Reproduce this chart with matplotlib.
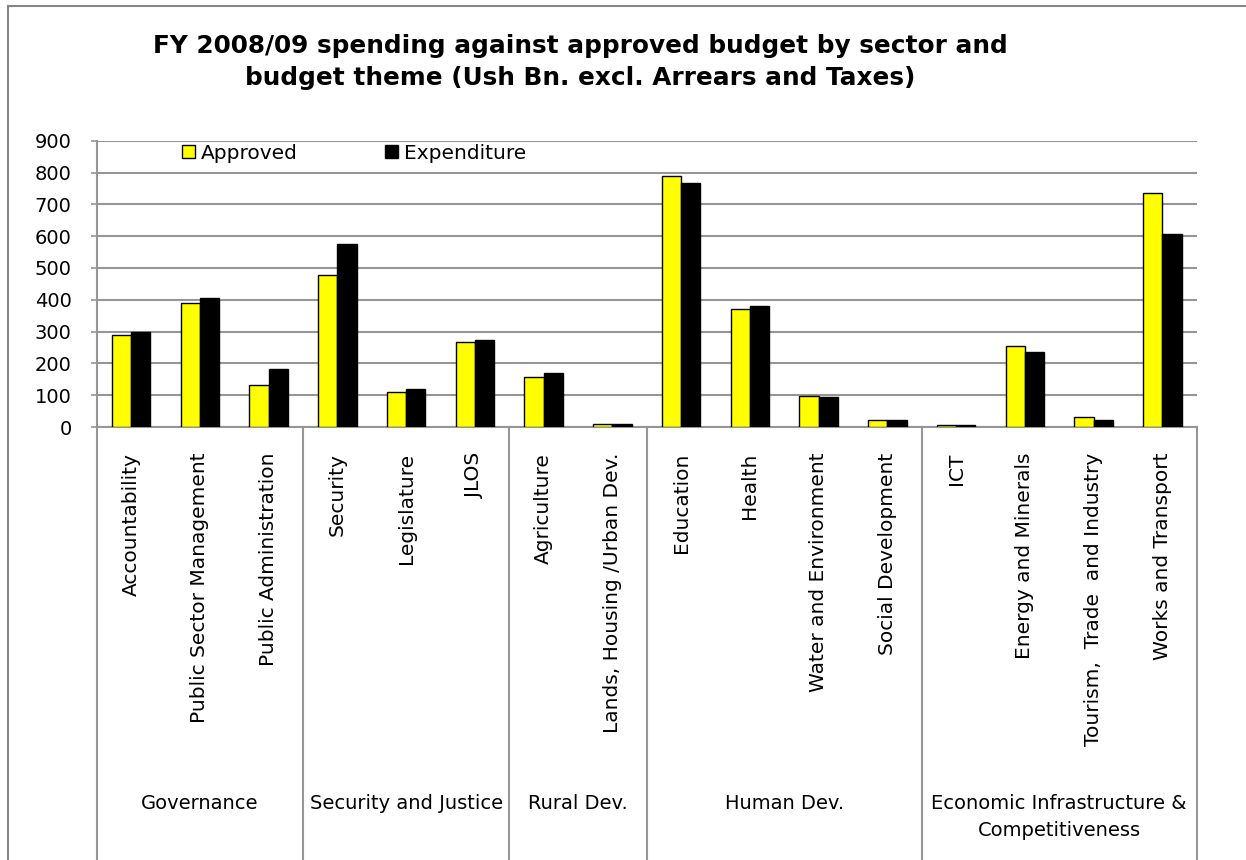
import matplotlib
matplotlib.use("Agg")
import matplotlib.pyplot as plt
from matplotlib.lines import Line2D
from matplotlib.patches import Patch
import numpy as np

# ---- data ----
categories = ["Accountability", "Public Sector Management", "Public Administration",
              "Security", "Legislature", "JLOS",
              "Agriculture", "Lands, Housing /Urban Dev.",
              "Education", "Health", "Water and Environment", "Social Development",
              "ICT", "Energy and Minerals", "Tourism,  Trade  and Industry", "Works and Transport"]
approved = [290, 390, 133, 479, 109, 267, 156, 9, 789, 372, 98, 21, 5, 256, 30, 737]
expenditure = [299, 404, 181, 575, 118, 275, 169, 10, 768, 381, 94, 23, 5, 235, 23, 608]
groups = ["Governance", "Security and Justice", "Rural Dev.", "Human Dev.",
          "Economic Infrastructure &\nCompetitiveness"]
group_sizes = [3, 3, 2, 4, 4]
yticks = [0, 100, 200, 300, 400, 500, 600, 700, 800, 900]
title = "FY 2008/09 spending against approved budget by sector and\nbudget theme (Ush Bn. excl. Arrears and Taxes)"

W, H = 1246, 860
fig = plt.figure(figsize=(W / 100, H / 100), dpi=100)
ax = fig.add_axes([96.7 / W, 1 - 427 / H, 1100 / W, (427 - 140.7) / H])

grid_c = "#969696"
x = np.arange(len(categories))
bw = 0.28
ax.bar(x - bw / 2, approved, bw, color="#FFFF00", edgecolor="black", linewidth=1.0, zorder=3, label="Approved")
ax.bar(x + bw / 2, expenditure, bw, color="black", edgecolor="black", linewidth=1.0, zorder=3, label="Expenditure")

ax.set_xlim(-0.5, len(categories) - 0.5)
ax.set_ylim(0, 900)
ax.set_yticks(yticks)
ax.set_yticklabels([str(v) for v in yticks], fontsize=14)
ax.yaxis.grid(True, color=grid_c, linewidth=1.5, zorder=0)
ax.set_axisbelow(True)
ax.tick_params(axis="y", length=4, width=1.2, color=grid_c, pad=14)
ax.set_xticks([])
for s in ["top", "right"]:
    ax.spines[s].set_visible(False)
for s in ["left", "bottom"]:
    ax.spines[s].set_color(grid_c)
    ax.spines[s].set_linewidth(1.5)

# category labels
for i, c in enumerate(categories):
    ax.text(i, -0.09, c, rotation=90, ha="center", va="top", fontsize=14.5,
            transform=ax.get_xaxis_transform(), clip_on=False)

# group separators and labels
ax_h = (427 - 140.7)
ylow = -(860 - 427 + 5) / ax_h
start = 0
bounds = [0]
for g, n in zip(groups, group_sizes):
    start += n
    bounds.append(start)
for b in bounds:
    ax.add_line(Line2D([b - 0.5, b - 0.5], [0, ylow], transform=ax.get_xaxis_transform(),
                       color=grid_c, linewidth=1.5, clip_on=False))
for k, g in enumerate(groups):
    cx = (bounds[k] + bounds[k + 1]) / 2 - 0.5
    ax.text(cx, -(794 - 427) / ax_h, g, ha="center", va="top", fontsize=14,
            linespacing=1.55,
            transform=ax.get_xaxis_transform(), clip_on=False)

# legend
handles = [Patch(facecolor="#FFFF00", edgecolor="black", linewidth=1.0),
           Patch(facecolor="black", edgecolor="black", linewidth=1.0)]
ax.legend(handles, ["Approved", "Expenditure"], loc="upper left", bbox_to_anchor=(0.0775, 0.99),
          ncol=2, frameon=False, fontsize=14.5, handlelength=0.65, handleheight=0.65,
          handletextpad=0.3, columnspacing=4.3, borderpad=0, borderaxespad=0)

# title
fig.text(580 / W, 1 - 62 / H, title, ha="center", va="center", fontsize=17.8,
         fontweight="bold", linespacing=1.4)

# chart border (left and top)
fig.add_artist(Line2D([8 / W, 8 / W], [0, 1 - 6 / H], color="#868686", linewidth=1.5))
fig.add_artist(Line2D([8 / W, 1], [1 - 6 / H, 1 - 6 / H], color="#868686", linewidth=1.5))

fig.savefig("out.png", dpi=100)
